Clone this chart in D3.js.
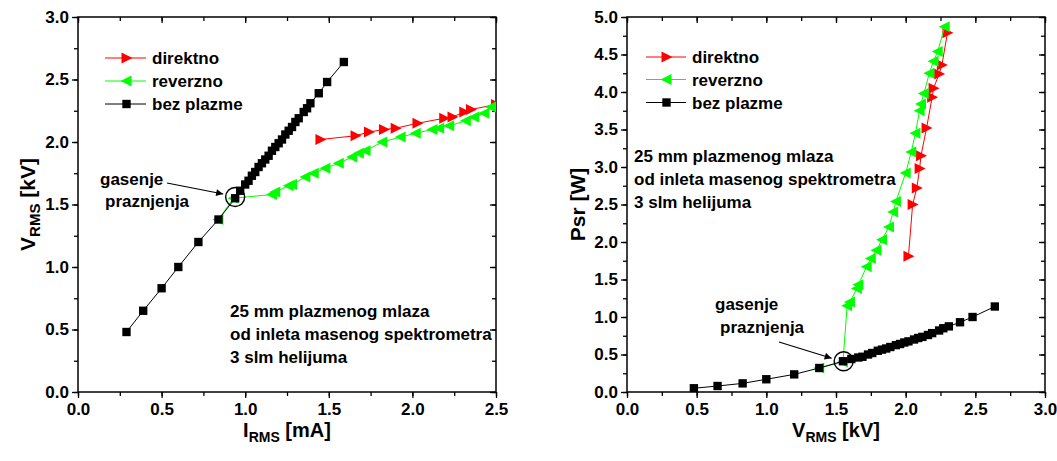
<!DOCTYPE html>
<html><head><meta charset="utf-8">
<script src="https://cdn.jsdelivr.net/npm/d3@7"></script>
<style>
body{margin:0;background:#fff}
svg{display:block}
text{font-family:"Liberation Sans",Arial,Helvetica,sans-serif;font-weight:bold;fill:#000}
</style>
</head><body>
<svg id="c" width="1057" height="461"></svg>
<script>
// ---- data ----
// bez plazme (no plasma)
const bezI = [0.29,0.39,0.50,0.60,0.72,0.84,0.94,0.97,1.00,1.02,1.04,1.06,1.08,1.10,1.12,1.14,1.16,1.18,1.20,1.22,1.24,1.26,1.28,1.30,1.32,1.35,1.37,1.39,1.44,1.49,1.59];
const bezV = [0.48,0.65,0.83,1.00,1.20,1.38,1.55,1.61,1.66,1.69,1.73,1.76,1.80,1.83,1.86,1.89,1.93,1.96,1.99,2.02,2.06,2.09,2.12,2.16,2.19,2.24,2.27,2.31,2.39,2.48,2.64];
const bezP = [0.05,0.08,0.115,0.17,0.235,0.32,0.41,0.44,0.46,0.47,0.50,0.52,0.55,0.565,0.58,0.60,0.625,0.64,0.66,0.675,0.70,0.72,0.735,0.76,0.785,0.82,0.85,0.875,0.93,1.00,1.14];
// direktno
const dirI = [1.45,1.66,1.74,1.83,1.90,2.03,2.19,2.24,2.31,2.35,2.50];
const dirV = [2.02,2.05,2.08,2.10,2.11,2.15,2.19,2.20,2.24,2.26,2.30];
const dirP = [1.81,2.50,2.72,2.98,3.15,3.52,3.93,4.05,4.24,4.36,4.79];
// reverzno
const revI = [0.84,0.93,1.16,1.18,1.26,1.28,1.36,1.41,1.48,1.56,1.64,1.68,1.72,1.82,1.93,2.02,2.12,2.16,2.22,2.32,2.37,2.43,2.47];
const revV = [1.38,1.55,1.58,1.60,1.65,1.66,1.72,1.75,1.79,1.83,1.88,1.91,1.93,2.00,2.04,2.07,2.10,2.11,2.13,2.17,2.20,2.23,2.28];
const revP = [0.32,0.40,1.15,1.20,1.38,1.43,1.67,1.78,1.89,2.03,2.20,2.40,2.54,2.92,3.20,3.45,3.75,3.84,3.98,4.25,4.41,4.54,4.87];

const seriesNames = ["direktno","reverzno","bez plazme"];
const seriesColors = ["#ff0000","#00ff00","#000000"];
const leftXTicks = [0.0,0.5,1.0,1.5,2.0,2.5];
const leftYTicks = [0.0,0.5,1.0,1.5,2.0,2.5,3.0];
const rightXTicks = [0.0,0.5,1.0,1.5,2.0,2.5,3.0];
const rightYTicks = [0.0,0.5,1.0,1.5,2.0,2.5,3.0,3.5,4.0,4.5,5.0];
const noteLines = ["25 mm plazmenog mlaza","od inleta masenog spektrometra","3 slm helijuma"];
const quenchLines = ["gasenje","praznjenja"];

const svg = d3.select("#c");
const defs = svg.append("defs");
defs.append("marker").attr("id","arr").attr("viewBox","0 0 10 10").attr("refX",10).attr("refY",5)
  .attr("markerWidth",9).attr("markerHeight",7).attr("markerUnits","userSpaceOnUse").attr("orient","auto")
  .append("path").attr("d","M0,0L10,5L0,10Z").attr("fill","#000");

const shapes = {
  right: "M-5,-5.5L6,0L-5,5.5Z",
  left: "M5,-5.5L-6,0L5,5.5Z",
  square: d3.symbol().type(d3.symbolSquare).size(70)()
};
const seriesShapes = [shapes.right, shapes.left, shapes.square];

function minorVals(domain, step){
  const out=[]; for(let v=domain[0]; v<=domain[1]+1e-9; v+=step) out.push(+v.toFixed(4)); return out;
}

function drawPanel(cfg){
  const x = d3.scaleLinear().domain(cfg.xd).range(cfg.xr);
  const y = d3.scaleLinear().domain(cfg.yd).range(cfg.yr);
  const g = svg.append("g");
  const [x0,x1]=cfg.xr, [y0,y1]=cfg.yr;
  defs.append("clipPath").attr("id",cfg.id).append("rect")
    .attr("x",x0).attr("y",y1).attr("width",x1-x0).attr("height",y0-y1);

  const fmt = d3.format(".1f");
  const minors = (d, st) => minorVals(d, st);
  const style = sel => { sel.select(".domain").remove(); sel.selectAll("line").attr("stroke","#000").attr("stroke-width",1.3); sel.selectAll("text").style("font-size","17px").attr("fill","#000"); };
  // bottom
  g.append("g").attr("transform",`translate(0,${y0})`).call(d3.axisBottom(x).tickValues(cfg.xt).tickSize(6).tickPadding(5).tickFormat(fmt)).call(style);
  g.append("g").attr("transform",`translate(0,${y0})`).call(d3.axisBottom(x).tickValues(minors(cfg.xd,0.25)).tickSize(4).tickFormat("")).call(style);
  // top inward
  g.append("g").attr("transform",`translate(0,${y1})`).call(d3.axisTop(x).tickValues(cfg.xt).tickSize(-6).tickFormat("")).call(style);
  g.append("g").attr("transform",`translate(0,${y1})`).call(d3.axisTop(x).tickValues(minors(cfg.xd,0.25)).tickSize(-4).tickFormat("")).call(style);
  // left
  g.append("g").attr("transform",`translate(${x0},0)`).call(d3.axisLeft(y).tickValues(cfg.yt).tickSize(6).tickPadding(3).tickFormat(fmt)).call(style);
  g.append("g").attr("transform",`translate(${x0},0)`).call(d3.axisLeft(y).tickValues(minors(cfg.yd,0.25)).tickSize(4).tickFormat("")).call(style);
  // right inward
  g.append("g").attr("transform",`translate(${x1},0)`).call(d3.axisRight(y).tickValues(cfg.yt).tickSize(-6).tickFormat("")).call(style);
  g.append("g").attr("transform",`translate(${x1},0)`).call(d3.axisRight(y).tickValues(minors(cfg.yd,0.25)).tickSize(-4).tickFormat("")).call(style);
  // frame
  g.append("rect").attr("x",x0).attr("y",y1).attr("width",x1-x0).attr("height",y0-y1)
    .attr("fill","none").attr("stroke","#000").attr("stroke-width",1.5);

  // series
  const plot = g.append("g").attr("clip-path",`url(#${cfg.id})`);
  cfg.series.forEach((s,i)=>{
    const pts = s.xs.map((v,k)=>[v,s.ys[k]]);
    plot.append("path").attr("d", d3.line().x(d=>x(d[0])).y(d=>y(d[1]))(pts))
      .attr("fill","none").attr("stroke",seriesColors[i]).attr("stroke-width",1);
    plot.selectAll(null).data(pts).enter().append("path")
      .attr("transform",d=>`translate(${x(d[0])},${y(d[1])})`)
      .attr("d",seriesShapes[i]).attr("fill",seriesColors[i]);
  });

  // legend
  cfg.legend.rows.forEach((cy,i)=>{
    const L = cfg.legend;
    g.append("line").attr("x1",L.x1).attr("x2",L.x2).attr("y1",cy).attr("y2",cy)
      .attr("stroke",seriesColors[i]).attr("stroke-width",1);
    g.append("path").attr("transform",`translate(${L.xm},${cy})`).attr("d",seriesShapes[i]).attr("fill",seriesColors[i]);
    g.append("text").attr("x",L.xt).attr("y",cy+6).style("font-size","17px").text(seriesNames[i]);
  });

  // note text
  noteLines.forEach((t,i)=>{
    g.append("text").attr("x",cfg.note.x).attr("y",cfg.note.y + i*cfg.note.dy).style("font-size","17px").text(t);
  });
  // quench annotation
  const q = cfg.quench;
  g.append("text").attr("x",q.tx1).attr("y",q.ty1).style("font-size","17px").text(quenchLines[0]);
  g.append("text").attr("x",q.tx2).attr("y",q.ty2).style("font-size","17px").text(quenchLines[1]);
  const cx = x(q.cx), cy = y(q.cy);
  g.append("circle").attr("cx",cx).attr("cy",cy).attr("r",9.5).attr("fill","none").attr("stroke","#000").attr("stroke-width",1.4);
  g.append("line").attr("x1",q.ax).attr("y1",q.ay).attr("x2",cx-12).attr("y2",cy-3)
    .attr("stroke","#000").attr("stroke-width",1.2).attr("marker-end","url(#arr)");

  // axis titles
  const bt = g.append("text").attr("x",(x0+x1)/2).attr("y",437).attr("text-anchor","middle").style("font-size","20px");
  bt.append("tspan").text(cfg.xTitle[0]);
  bt.append("tspan").style("font-size","14px").attr("dy",5).text(cfg.xTitle[1]);
  bt.append("tspan").attr("dy",-5).text(cfg.xTitle[2]);
  const lt = g.append("text").attr("transform",`translate(${cfg.yTitleX},${(y0+y1)/2}) rotate(-90)`).attr("text-anchor","middle").style("font-size","21px");
  lt.append("tspan").text(cfg.yTitle[0]);
  if(cfg.yTitle[1]){
    lt.append("tspan").style("font-size","15px").attr("dy",5).text(cfg.yTitle[1]);
    lt.append("tspan").attr("dy",-5).text(cfg.yTitle[2]);
  }
}

drawPanel({
  id:"clipL", xd:[0,2.5], yd:[0,3], xr:[78,496], yr:[392,17], xt:leftXTicks, yt:leftYTicks,
  series:[{xs:dirI,ys:dirV},{xs:revI,ys:revV},{xs:bezI,ys:bezV}],
  legend:{x1:105,x2:146,xm:126.5,xt:152,rows:[58,81,104]},
  note:{x:230,y:317,dy:23},
  quench:{tx1:100,ty1:185,tx2:105,ty2:207,ax:167,ay:183,cx:0.94,cy:1.56},
  xTitle:["I","RMS"," [mA]"], yTitle:["V","RMS"," [kV]"], yTitleX:35
});
drawPanel({
  id:"clipR", xd:[0,3], yd:[0,5], xr:[627,1045], yr:[392,17], xt:rightXTicks, yt:rightYTicks,
  series:[{xs:dirV,ys:dirP},{xs:revV,ys:revP},{xs:bezV,ys:bezP}],
  legend:{x1:646,x2:686,xm:666.5,xt:692,rows:[57,79.5,102.5]},
  note:{x:634,y:162,dy:23},
  quench:{tx1:715,ty1:310,tx2:720,ty2:333,ax:779,ay:342,cx:1.555,cy:0.41},
  xTitle:["V","RMS"," [kV]"], yTitle:["Psr [W]"], yTitleX:585
});
</script>
</body></html>
